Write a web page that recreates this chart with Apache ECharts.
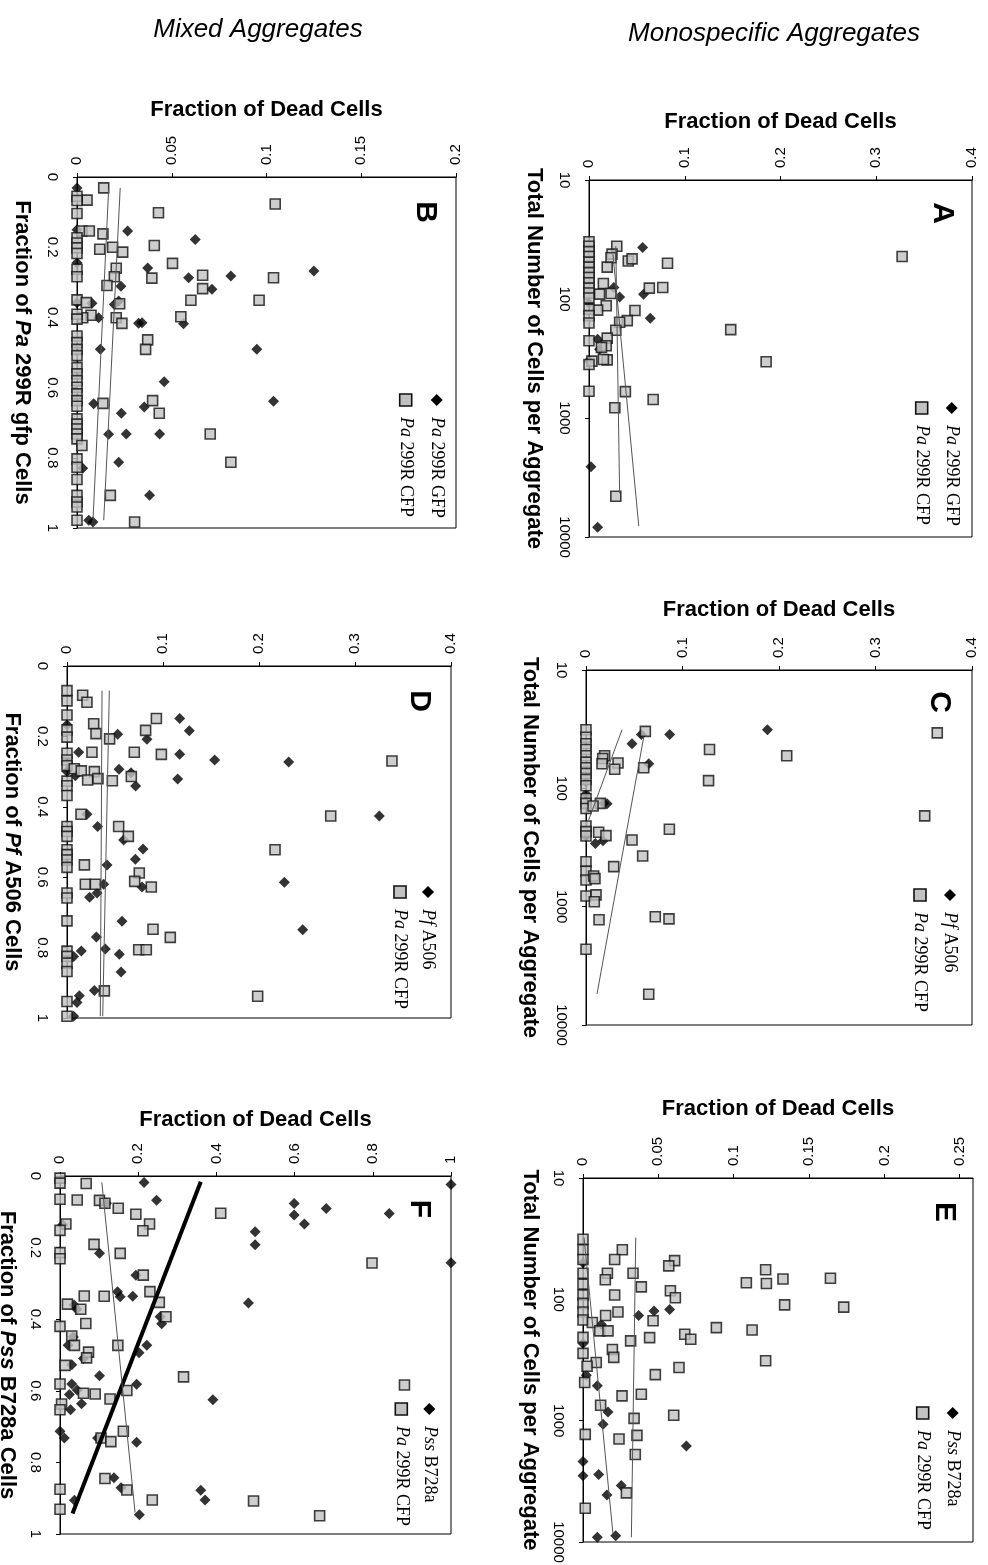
<!DOCTYPE html>
<html>
<head>
<meta charset="utf-8">
<script src="https://cdn.jsdelivr.net/npm/echarts@6/dist/echarts.min.js"></script>
<style>
  html, body { margin: 0; padding: 0; background: #fff; }
  #chart { width: 988px; height: 1565px; }
</style>
</head>
<body>
<div id="chart"></div>
<script>
// data points are [x value, fraction of dead cells]
// A: monospecific Pa 299R GFP / CFP, x = total cells per aggregate
const panelA_gfp = [[37,0.056],[80,0.026],[96,0.032],[91,0.057],[145,0.064],[108,0],[218,0.009],[265,0.011],[330,0],[2570,0.002],[8300,0.009]]
const panelA_cfp = [[44,0.327],[36,0.029],[42,0.024],[45,0.023],[54,0.019],[48,0.041],[46,0.045],[50,0.082],[74,0.015],[91,0.011],[90,0.023],[81,0.063],[80,0.077],[114,0.018],[124,0.009],[125,0.048],[152,0.040],[157,0.032],[183,0.028],[181,0.148],[213,0.019],[247,0.018],[255,0.013],[325,0.019],[322,0.015],[333,0.003],[337,0.185],[600,0.038],[700,0.067],[596,0],[820,0.027],[4540,0.028],
  [33,0],[36,0],[40,0],[44,0],[49,0],[54,0],[60,0],[66,0],[73,0],[81,0],[89,0],[98,0],[122,0],[138,0],[159,0],[224,0],[355,0]]
const panelA_trend1 = [[42,0.025],[8100,0.052]]
const panelA_trend2 = [[36,0.028],[4300,0.032]]

// B: mixed, x = fraction of Pa 299R gfp cells
const panelB_gfp = [[0.031,0],[0.154,0.0267],[0.178,0.0624],[0.259,0.0373],[0.268,0.125],[0.287,0.0589],[0.282,0.0812],[0.311,0.0232],[0.320,0.0712],[0.360,0.0079],[0.363,0.0197],[0.353,0.022],[0.401,0.0114],[0.417,0.0325],[0.415,0.0343],[0.418,0.0562],[0.491,0.0123],[0.491,0.0949],[0.583,0.046],[0.646,0.0088],[0.655,0.0355],[0.639,0.1037],[0.673,0.0234],[0.733,0.0167],[0.732,0.026],[0.732,0.0436],[0.8125,0.022],[0.83,0.003],[0.907,0.0383],[0.978,0.0062],[0.983,0.0084],[0.150,0],[0.244,0],[0.358,0]]
const panelB_cfp = [[0.031,0.0141],[0.066,0.0053],[0.077,0.1046],[0.055,0],[0.067,0],[0.102,0.043],[0.104,0],[0.154,0.0026],[0.154,0.0065],[0.162,0.0137],[0.195,0.0408],[0.200,0.0188],[0.206,0.012],[0.214,0.0241],[0.173,0],[0.188,0],[0.202,0],[0.218,0],[0.246,0.0504],[0.260,0.0207],[0.280,0.0663],[0.288,0.0395],[0.287,0.1037],[0.284,0.0197],[0.309,0.0158],[0.263,0],[0.284,0],[0.318,0.0663],[0.351,0.0601],[0.351,0.0961],[0.350,0],[0.358,0.0049],[0.361,0.0225],[0.394,0.0074],[0.401,0.003],[0.391,0],[0.405,0],[0.401,0.0207],[0.398,0.0548],[0.417,0.0237],[0.464,0.0373],[0.491,0.0362],[0.453,0],[0.472,0],[0.491,0],[0.509,0],[0.543,0],[0.561,0],[0.580,0],[0.599,0],[0.618,0],[0.637,0],[0.653,0],[0.689,0],[0.704,0],[0.718,0],[0.732,0],[0.746,0],[0.637,0.0399],[0.645,0.0137],[0.673,0.0434],[0.732,0.0703],[0.765,0.0026],[0.8125,0.0812],[0.803,0],[0.827,0],[0.862,0],[0.907,0.0176],[0.907,0],[0.926,0],[0.940,0],[0.983,0.0304],[0.978,0]]
const panelB_trend1 = [[0.034,0.0167],[0.983,0.0084]]
const panelB_trend2 = [[0.031,0.0228],[0.978,0.0141]]

// C: monospecific Pf A506 / Pa 299R CFP
const panelC_pf = [[32,0.188],[35,0.0867],[35,0.0573],[42,0.0477],[62,0.065],[88,0],[112,0],[135,0.0218],[134,0.0183],[277,0.0176],[292,0.0097],[255,0]]
const panelC_cfp = [[34,0.364],[33,0.0615],[47,0.128],[53,0.208],[53,0.0193],[56,0.0173],[62,0.0166],[61,0.0332],[69,0.0297],[67,0.0598],[86,0.127],
  [32,0],[37,0],[42,0],[47,0],[53,0],[60,0],[67,0],[75,0],[84,0],[95,0],[122,0],[134,0],[148,0],
  [134,0.0149],[141,0.0073],[171,0.351],[222,0.0864],[208,0],[232,0],[253,0],[235,0.0131],[251,0.0207],[273,0.0477],[373,0.0587],[459,0.0287],[417,0],[501,0],[595,0],[550,0.0079],[580,0.0093],[813,0],[795,0.0104],[908,0.0086],[1217,0.0718],[1267,0.086],[1290,0.0135],[2290,0],[5500,0.065]]
const panelC_trend1 = [[32,0.0373],[185,0.0028]]
const panelC_trend2 = [[37,0.0598],[5470,0.0114]]

// D: mixed, x = fraction of Pf A506 cells
const panelD_pf = [[0.149,0.1174],[0.184,0.1274],[0.194,0.0528],[0.208,0.0833],[0.245,0.0122],[0.251,0.1174],[0.267,0.1538],[0.273,0.2309],[0.293,0.0542],[0.303,0.0667],[0.312,0.0087],[0.321,0.1153],[0.341,0.0715],[0.30,0],[0.167,0],[0.421,0.0208],[0.426,0.3253],[0.456,0.0319],[0.494,0.059],[0.520,0.0792],[0.549,0.0712],[0.565,0.0417],[0.614,0.2264],[0.62,0.0382],[0.628,0.0781],[0.645,0.0313],[0.657,0.0236],[0.725,0.0573],[0.749,0.2455],[0.770,0.0306],[0.804,0.0399],[0.81,0.0149],[0.825,0.0069],[0.819,0.0545],[0.869,0.0563],[0.922,0.0285],[0.937,0.0128],[0.956,0.0104],[0.995,0.0069]]
const panelD_cfp = [[0.070,0],[0.099,0],[0.139,0],[0.083,0.0163],[0.103,0.0208],[0.149,0.0931],[0.164,0.0278],[0.183,0.0819],[0.192,0.0302],[0.207,0.0444],[0.182,0],[0.202,0],[0.245,0.026],[0.245,0.0701],[0.251,0.0983],[0.270,0.3385],[0.248,0],[0.267,0],[0.283,0],[0.292,0.0076],[0.298,0.0149],[0.30,0.0285],[0.314,0.067],[0.324,0.0215],[0.32,0.0323],[0.326,0.0472],[0.327,0],[0.340,0],[0.368,0],[0.421,0.0146],[0.426,0.2747],[0.456,0.0538],[0.484,0.0639],[0.456,0],[0.470,0],[0.484,0],[0.522,0],[0.536,0],[0.551,0],[0.572,0],[0.522,0.2167],[0.565,0.0181],[0.588,0.0753],[0.620,0.0191],[0.62,0.0295],[0.612,0.0705],[0.628,0.0878],[0.645,0],[0.659,0],[0.724,0],[0.748,0.0896],[0.771,0.1076],[0.806,0.0747],[0.806,0.0826],[0.81,0],[0.825,0],[0.844,0],[0.868,0],[0.923,0.0389],[0.938,0.1986],[0.953,0],[0.995,0]]
const panelD_trend1 = [[0.07,0.0365],[0.995,0.0347]]
const panelD_trend2 = [[0.07,0.0441],[0.995,0.0372]]

// E: monospecific Pss B728a / Pa 299R CFP
const panelE_pss = [[50,0],[125,0.0471],[121,0.0575],[136,0.0369],[161,0.0122],[231,0],[422,0.0022],[516,0.0095],[847,0.0166],[1072,0.0133],[1617,0.0686],[2170,0],[2850,0],[2780,0.0104],[3420,0.0254],[4090,0.0159],[8870,0.0217],[9150,0.0095]]
const panelE_cfp = [[32,0],[39,0],[47,0],[61,0],[75,0],[92,0],[108,0],[127,0],[148,0],
  [39,0.0261],[47,0.021],[48,0.0608],[53,0.0569],[61,0.0332],[61,0.0162],[69,0.0148],[57,0.1212],[74,0.1217],[68,0.1327],[73,0.1084],[67,0.1642],[79,0.0387],[85,0.058],[97,0.0613],[92,0.021],[111,0.1338],[116,0.173],[127,0.0232],[136,0.015],[150,0.0465],[155,0.0062],[171,0.0885],[179,0.1122],[182,0.0111],[182,0.0166],[194,0.0675],[213,0.0715],[207,0.0442],[220,0.0316],[206,0],[279,0],[259,0.0195],[301,0.0204],[321,0.1212],[332,0.0088],[356,0.0027],[365,0.0637],[417,0.048],[485,0.0011],[625,0.0259],[606,0.0387],[746,0.0117],[903,0.0602],[957,0.0339],[1321,0.0358],[1297,0.0015],[1418,0.0239],[1898,0.0347],[3934,0.0288],[5270,0.0015]]
const panelE_trend1 = [[31,0.0007],[8590,0.0199]]
const panelE_trend2 = [[31,0.035],[9150,0.0321]]

// F: mixed, x = fraction of Pss B728a cells
const panelF_pss = [[0.024,1.0],[0.242,1.0],[0.018,0.215],[0.068,0.247],[0.076,0.119],[0.077,0.599],[0.091,0.681],[0.105,0.842],[0.109,0.599],[0.134,0.625],[0.156,0.499],[0.192,0.499],[0.216,0.101],[0.136,0.0068],[0.277,0.194],[0.323,0.147],[0.337,0.154],[0.336,0.186],[0.355,0.482],[0.36,0.036],[0.372,0.043],[0.393,0.256],[0.413,0.26],[0.473,0.222],[0.494,0.202],[0.45,0.034],[0.473,0.021],[0.527,0.03],[0.51,0.06],[0.558,0.101],[0.581,0.03],[0.582,0.196],[0.598,0.044],[0.61,0.024],[0.636,0.055],[0.625,0.391],[0.653,0.027],[0.713,0],[0.732,0.011],[0.744,0.196],[0.843,0.138],[0.871,0.156],[0.878,0.36],[0.905,0.371],[0.906,0.037],[0.946,0.203],[0.732,0.096]]
const panelF_cfp = [[0.006,0],[0.020,0],[0.021,0.067],[0.065,0],[0.067,0.044],[0.068,0.101],[0.076,0.115],[0.09,0.149],[0.107,0.194],[0.104,0.411],[0.134,0.229],[0.134,0.015],[0.153,0.212],[0.152,0],[0.191,0.087],[0.216,0.154],[0.214,0],[0.231,0],[0.243,0.798],[0.277,0.213],[0.323,0.23],[0.335,0.062],[0.336,0.113],[0.353,0.254],[0.358,0.019],[0.372,0.053],[0.393,0.271],[0.42,0],[0.412,0.066],[0.447,0.03],[0.473,0.037],[0.473,0.148],[0.492,0.073],[0.508,0.068],[0.529,0.013],[0.561,0.316],[0.581,0],[0.607,0.06],[0.609,0.09],[0.599,0.171],[0.623,0.128],[0.637,0.004],[0.653,0],[0.713,0.162],[0.732,0.105],[0.742,0.13],[0.845,0.115],[0.877,0.171],[0.875,0],[0.905,0.236],[0.908,0.495],[0.931,0],[0.949,0.664],[0.584,0.881]]
const panelF_trend1 = [[0.016,0.360],[0.943,0.032]]
const panelF_trend2 = [[0.018,0.107],[0.94,0.192]]

const SANS = 'Liberation Sans, Arial, sans-serif'
const SERIF = 'Liberation Serif, Times New Roman, serif'
const DEAD = 'Fraction of Dead Cells'
const TOTAL = 'Total Number of Cells per Aggregate'

// layout of the six panels (rotated page: x variable runs down, dead fraction runs right)
const panels = [
  { letter: 'A', box: [589, 180, 383, 357], log: true, xMax: 0.4, xInt: 0.1, xName: DEAD, xGap: 47,
    yName: TOTAL, yGap: 44, dots: panelA_gfp, squares: panelA_cfp, trends: [panelA_trend1, panelA_trend2],
    leg: [951.7, 408, 30], l1: '{i|Pa} 299R GFP', l2: '{i|Pa} 299R CFP', pos: [942, 213] },
  { letter: 'B', box: [77, 177, 379, 351], log: false, xMax: 0.2, xInt: 0.05, xName: DEAD, xGap: 56,
    yName: 'Fraction of {i|Pa} 299R gfp Cells', yGap: 44, dots: panelB_gfp, squares: panelB_cfp, trends: [panelB_trend1, panelB_trend2],
    leg: [436.7, 400, 31], l1: '{i|Pa} 299R GFP', l2: '{i|Pa} 299R CFP', pos: [425, 212] },
  { letter: 'C', box: [586, 670, 386, 355], log: true, xMax: 0.4, xInt: 0.1, xName: DEAD, xGap: 49,
    yName: TOTAL, yGap: 45, dots: panelC_pf, squares: panelC_cfp, trends: [panelC_trend1, panelC_trend2],
    leg: [950, 895, 30], l1: '{i|Pf} A506', l2: '{i|Pa} 299R CFP', pos: [939, 702] },
  { letter: 'D', box: [67, 666, 384, 352], log: false, xMax: 0.4, xInt: 0.1, xName: '', xGap: 0,
    yName: 'Fraction of {i|Pf} A506 Cells', yGap: 44, dots: panelD_pf, squares: panelD_cfp, trends: [panelD_trend1, panelD_trend2],
    leg: [428, 892, 28], l1: '{i|Pf} A506', l2: '{i|Pa} 299R CFP', pos: [419, 701] },
  { letter: 'E', box: [583, 1178, 390, 364], log: true, xMax: 0.2588, xInt: 0.05, xName: DEAD, xGap: 58,
    yName: TOTAL, yGap: 42, dots: panelE_pss, squares: panelE_cfp, trends: [panelE_trend1, panelE_trend2],
    leg: [952.7, 1413, 30], l1: '{i|Pss} B728a', l2: '{i|Pa} 299R CFP', pos: [944, 1212] },
  { letter: 'F', box: [60, 1176, 391, 358], log: false, xMax: 1, xInt: 0.2, xName: DEAD, xGap: 45,
    yName: 'Fraction of {i|Pss} B728a Cells', yGap: 42, dots: panelF_pss, squares: panelF_cfp, trends: [panelF_trend1, panelF_trend2],
    thick: 0, leg: [429.3, 1409, 28], l1: '{i|Pss} B728a', l2: '{i|Pa} 299R CFP', pos: [419, 1209] }
]

const grids = [], xAxes = [], yAxes = [], series = [], graphics = []
const flip = d => [d[1], d[0]]
const black = '#000'

panels.forEach((p, i) => {
  grids.push({
    left: p.box[0], top: p.box[1], width: p.box[2], height: p.box[3],
    show: true, borderColor: black, borderWidth: 1, outerBoundsMode: 'none'
  })

  xAxes.push({
    gridIndex: i, type: 'value', position: 'top', min: 0, max: p.xMax, interval: p.xInt,
    axisLine: { show: true, onZero: false, lineStyle: { color: black } },
    axisTick: { show: true, length: 4, lineStyle: { color: black } },
    splitLine: { show: false },
    axisLabel: {
      rotate: -90, margin: 12, fontSize: 15, color: black, fontFamily: SANS,
      showMaxLabel: p.letter !== 'E',
      formatter: v => String(+v.toFixed(3))
    },
    name: p.xName, nameLocation: 'middle', nameGap: p.xGap,
    nameTextStyle: { fontSize: 22, fontWeight: 'bold', fontFamily: SANS, color: black }
  })

  const yAxis = {
    gridIndex: i, position: 'left', inverse: true,
    axisLine: { show: true, onZero: false, lineStyle: { color: black } },
    axisTick: { show: true, length: 4, lineStyle: { color: black } },
    splitLine: { show: false },
    axisLabel: { rotate: -90, margin: 17, fontSize: 15, color: black, fontFamily: SANS },
    name: p.yName, nameLocation: 'middle', nameGap: p.yGap, nameRotate: -90,
    nameTextStyle: {
      fontSize: 22, fontWeight: 'bold', fontFamily: SANS, color: black,
      rich: { i: { fontSize: 22, fontWeight: 'bold', fontStyle: 'italic', fontFamily: SANS, color: black } }
    }
  }
  if (p.log) {
    Object.assign(yAxis, { type: 'log', logBase: 10, min: 10, max: 10000 })
    yAxis.axisLabel.formatter = v => String(Math.round(v))
  } else {
    Object.assign(yAxis, { type: 'value', min: 0, max: 1, interval: 0.2 })
    yAxis.axisLabel.formatter = v => String(+v.toFixed(1))
  }
  yAxes.push(yAxis)

  series.push({
    type: 'scatter', xAxisIndex: i, yAxisIndex: i, symbol: 'diamond', symbolSize: 11,
    itemStyle: { color: black }, data: p.dots.map(flip), clip: false, z: 2
  })
  series.push({
    type: 'scatter', xAxisIndex: i, yAxisIndex: i, symbol: 'rect', symbolSize: 10,
    itemStyle: { color: '#c2c2c2', borderColor: '#111', borderWidth: 1.6 }, data: p.squares.map(flip), clip: false, z: 3
  })
  p.trends.forEach((t, k) => {
    const bold = p.thick === k
    series.push({
      type: 'line', xAxisIndex: i, yAxisIndex: i, data: t.map(flip), symbol: 'none', silent: true,
      lineStyle: { color: bold ? black : '#555', width: bold ? 4 : 1 }, z: 4
    })
  })

  // panel letter
  graphics.push({
    type: 'text', x: p.pos[0], y: p.pos[1], rotation: -Math.PI / 2,
    style: { text: p.letter, fontSize: 30, fontWeight: 'bold', fontFamily: SANS, fill: black, align: 'center', verticalAlign: 'middle' }
  })

  // legend, written along the rotated page
  const txt = (label, dy) => ({
    type: 'text', x: 17, y: dy,
    style: {
      text: label, fontSize: 18, fontFamily: SERIF, fill: black, align: 'left', verticalAlign: 'middle',
      rich: { i: { fontSize: 18, fontFamily: SERIF, fontStyle: 'italic', fill: black } }
    }
  })
  const gap = p.leg[2]
  graphics.push({
    type: 'group', x: p.leg[0], y: p.leg[1], rotation: -Math.PI / 2,
    children: [
      { type: 'polygon', shape: { points: [[0, -6], [6, 0], [0, 6], [-6, 0]] }, style: { fill: black } },
      txt(p.l1, 0),
      { type: 'rect', shape: { x: -6, y: gap - 6, width: 12, height: 12 }, style: { fill: '#c2c2c2', stroke: '#111', lineWidth: 1.6 } },
      txt(p.l2, gap)
    ]
  })
})

const chart = echarts.init(document.getElementById('chart'), null, { renderer: 'canvas' })
chart.setOption({
  animation: false,
  backgroundColor: '#fff',
  title: [
    { text: 'Mixed Aggregates', left: 253, top: 12, textAlign: 'center',
      textStyle: { fontSize: 26, fontStyle: 'italic', fontWeight: 'normal', fontFamily: SANS, color: black } },
    { text: 'Monospecific Aggregates', left: 769, top: 16, textAlign: 'center',
      textStyle: { fontSize: 26, fontStyle: 'italic', fontWeight: 'normal', fontFamily: SANS, color: black } }
  ],
  grid: grids,
  xAxis: xAxes,
  yAxis: yAxes,
  series: series,
  graphic: graphics
})
</script>
</body>
</html>
